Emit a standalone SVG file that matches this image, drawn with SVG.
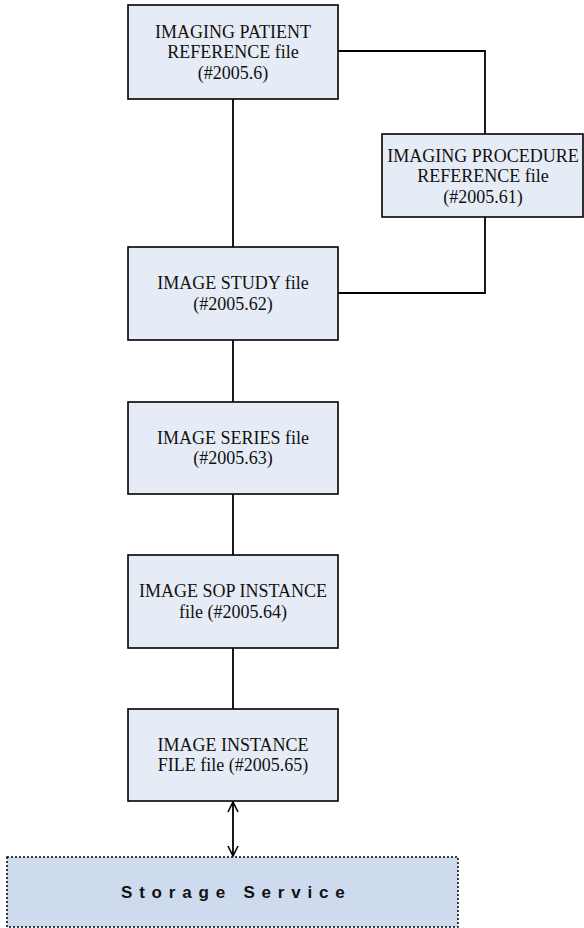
<svg xmlns="http://www.w3.org/2000/svg" width="584" height="928" viewBox="0 0 584 928">
<style>
.box{fill:#e6ecf6;stroke:#000;stroke-width:1.6}
.store{fill:#cedbee;stroke:#000;stroke-width:1.5;stroke-dasharray:2 2}
.t{font-family:"Liberation Serif","Times New Roman",serif;font-size:18px;fill:#111;text-anchor:middle}
.s{font-family:"Liberation Sans",Arial,sans-serif;font-size:17px;font-weight:bold;fill:#111;letter-spacing:6.8px}
.c{fill:none;stroke:#000;stroke-width:1.8}
</style>
<defs>
<marker id="ah" viewBox="0 0 12 12" refX="11" refY="6" markerWidth="12" markerHeight="12" markerUnits="userSpaceOnUse" orient="auto-start-reverse">
<path d="M1,1 L11,6 L1,11" fill="none" stroke="#000" stroke-width="1.6"/>
</marker>
</defs>
<g id="connectors">
<line class="c" x1="233" y1="99" x2="233" y2="247"/>
<polyline class="c" points="338,51 485,51 485,134"/>
<polyline class="c" points="485,217 485,293 338,293"/>
<line class="c" x1="233" y1="340" x2="233" y2="402"/>
<line class="c" x1="233" y1="494" x2="233" y2="555"/>
<line class="c" x1="233" y1="648" x2="233" y2="709"/>
<line class="c" x1="233" y1="802" x2="233" y2="856" marker-start="url(#ah)" marker-end="url(#ah)"/>
</g>
<g id="patient">
<rect class="box" x="128" y="5" width="210" height="94"/>
<text class="t" x="233" y="37.5">IMAGING PATIENT</text>
<text class="t" x="233" y="58">REFERENCE file</text>
<text class="t" x="233" y="78.5">(#2005.6)</text>
</g>
<g id="procedure">
<rect class="box" x="382" y="134" width="201" height="83"/>
<text class="t" x="483" y="161.5">IMAGING PROCEDURE</text>
<text class="t" x="483" y="182">REFERENCE file</text>
<text class="t" x="483" y="202.5">(#2005.61)</text>
</g>
<g id="study">
<rect class="box" x="128" y="247" width="210" height="93"/>
<text class="t" x="233" y="289">IMAGE STUDY file</text>
<text class="t" x="233" y="309.5">(#2005.62)</text>
</g>
<g id="series">
<rect class="box" x="128" y="402" width="210" height="92"/>
<text class="t" x="233" y="443.5">IMAGE SERIES file</text>
<text class="t" x="233" y="464">(#2005.63)</text>
</g>
<g id="sop">
<rect class="box" x="128" y="555" width="210" height="93"/>
<text class="t" x="233" y="597">IMAGE SOP INSTANCE</text>
<text class="t" x="233" y="617.5">file (#2005.64)</text>
</g>
<g id="instancefile">
<rect class="box" x="128" y="709" width="210" height="92"/>
<text class="t" x="233" y="750.5">IMAGE INSTANCE</text>
<text class="t" x="233" y="771">FILE file (#2005.65)</text>
</g>
<g id="storage">
<rect class="store" x="7" y="857" width="451" height="70"/>
<text class="s" x="121" y="898">Storage Service</text>
</g>
</svg>
